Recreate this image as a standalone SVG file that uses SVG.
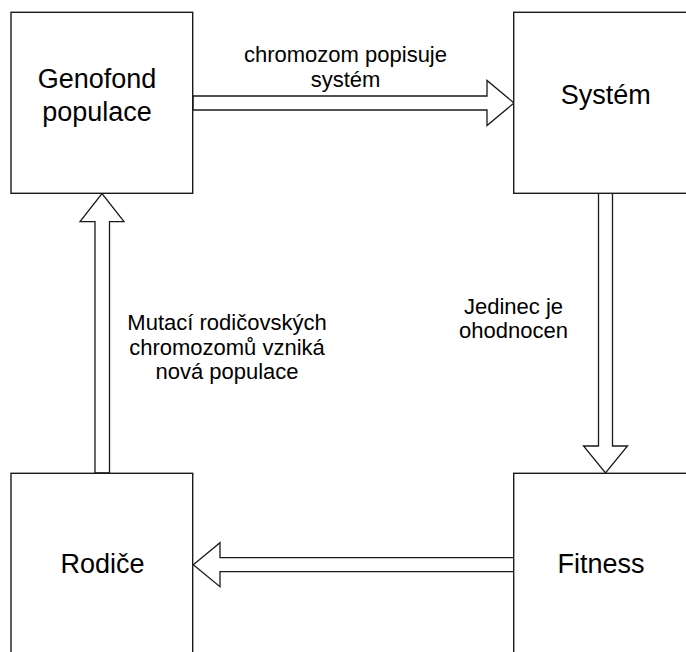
<svg xmlns="http://www.w3.org/2000/svg" width="686" height="652" viewBox="0 0 686 652">
  <style>
    .box { fill: #ffffff; stroke: #1a1a1a; stroke-width: 1.4; }
    .arrow { fill: #ffffff; stroke: #1a1a1a; stroke-width: 1.3; stroke-linejoin: miter; }
    .node-text { font-family: "Liberation Sans", Arial, sans-serif; font-size: 27px; fill: #000; text-anchor: middle; }
    .edge-text { font-family: "Liberation Sans", Arial, sans-serif; font-size: 22px; fill: #000; text-anchor: middle; }
  </style>
  <rect width="686" height="652" fill="#ffffff"/>

  <g id="connectors">
    <!-- Genofond -> Systém -->
    <polygon class="arrow" points="193,96 487,96 487,80.5 514,103 487,125.5 487,110 193,110"/>
    <!-- Systém -> Fitness -->
    <polygon class="arrow" points="598.5,193 612.5,193 612.5,446 627.5,446 605.5,473 583.5,446 598.5,446"/>
    <!-- Fitness -> Rodiče -->
    <polygon class="arrow" points="514,557.7 220,557.7 220,542.7 193.3,564.7 220,586.7 220,571.7 514,571.7"/>
    <!-- Rodiče -> Genofond -->
    <polygon class="arrow" points="95,473 95,221.7 80,221.7 102,193.5 124,221.7 109.5,221.7 109.5,473"/>

    <text class="edge-text" x="345.5" y="62.3">chromozom popisuje</text>
    <text class="edge-text" x="345.5" y="87.3">systém</text>

    <text class="edge-text" x="513.5" y="313.5">Jedinec je</text>
    <text class="edge-text" x="513.5" y="338">ohodnocen</text>

    <text class="edge-text" x="227" y="330">Mutací rodičovských</text>
    <text class="edge-text" x="227" y="354.5">chromozomů vzniká</text>
    <text class="edge-text" x="227" y="379">nová populace</text>
  </g>

  <g id="genofond">
    <rect class="box" x="11" y="12.3" width="181.7" height="181"/>
    <text class="node-text" x="97" y="88.3">Genofond</text>
    <text class="node-text" x="97" y="120.7">populace</text>
  </g>

  <g id="system">
    <rect class="box" x="513.7" y="12.3" width="181.7" height="181"/>
    <text class="node-text" x="605.8" y="104">Systém</text>
  </g>

  <g id="rodice">
    <rect class="box" x="11" y="473.3" width="181.7" height="181"/>
    <text class="node-text" x="102.5" y="573.3">Rodiče</text>
  </g>

  <g id="fitness">
    <rect class="box" x="513.7" y="473.3" width="181.7" height="181"/>
    <text class="node-text" x="601" y="573.3">Fitness</text>
  </g>
</svg>
